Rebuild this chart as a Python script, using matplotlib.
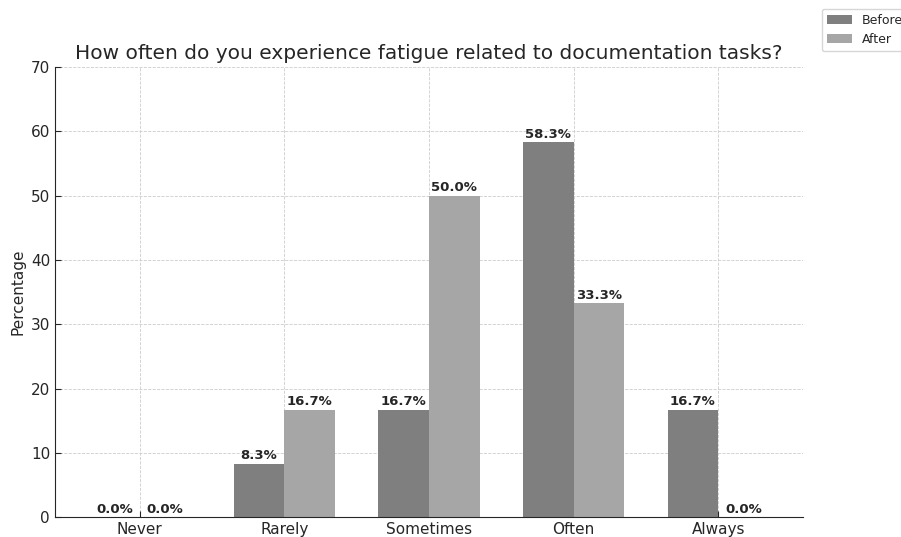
import matplotlib
matplotlib.use("Agg")
import matplotlib.pyplot as plt
import numpy as np

categories = ['Never', 'Rarely', 'Sometimes', 'Often', 'Always']
before = [0.0, 8.3, 16.7, 58.3, 16.7]
after = [0.0, 16.7, 50.0, 33.3, 0.0]

x = np.arange(len(categories))
width = 0.35

fig = plt.figure(figsize=(9.01, 5.37), dpi=100)
ax = fig.add_axes([0.061, 0.037, 0.83, 0.838])

b1 = ax.bar(x - width/2, before, width, label='Before', color='#7f7f7f')
b2 = ax.bar(x + width/2, after, width, label='After', color='#a6a6a6')

ax.set_ylim(0, 70)
ax.set_xticks(x)
ax.set_xticklabels(categories, fontsize=11, color='#262626')
ax.tick_params(axis='y', labelsize=11, labelcolor='#262626')
ax.tick_params(direction='in', length=4, color='#262626')
ax.set_ylabel('Percentage', fontsize=11, color='#262626')
ax.set_title('How often do you experience fatigue related to documentation tasks?',
             fontsize=14.5, color='#262626')
ax.grid(True, linestyle='--', linewidth=0.6, color='#cccccc')
ax.set_axisbelow(True)
for s in ['top', 'right']:
    ax.spines[s].set_visible(False)
for s in ['left', 'bottom']:
    ax.spines[s].set_color('#262626')


def autolabel(rects):
    for rect in rects:
        h = rect.get_height()
        ax.annotate('{:.1f}%'.format(h),
                    xy=(rect.get_x() + rect.get_width() / 2, h),
                    xytext=(0, 1), textcoords='offset points',
                    ha='center', va='bottom', fontsize=9.5,
                    fontweight='bold', color='#262626')


autolabel(b1)
autolabel(b2)

fig.legend(loc='upper left', bbox_to_anchor=(0.905, 0.995), fontsize=9,
           frameon=True, edgecolor='#cccccc', labelcolor='#262626')

fig.savefig('out.png', dpi=100)
